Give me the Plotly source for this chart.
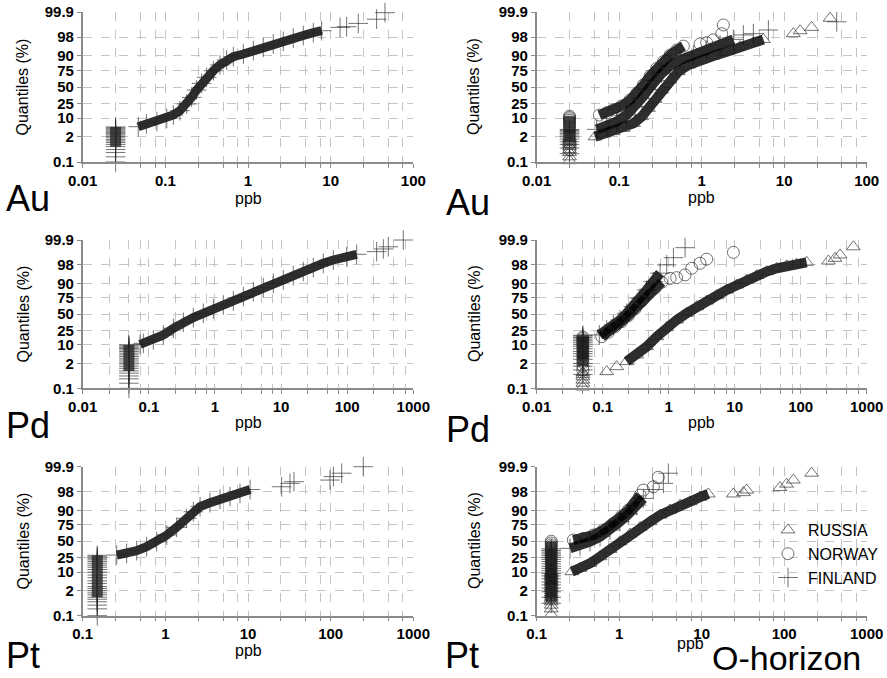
import plotly.graph_objects as go
from statistics import NormalDist

# ---------------- DATA ----------------
Y_TICKS = [0.1, 2, 10, 25, 50, 75, 90, 98, 99.9]
Y_TICK_TEXT = ["0.1", "2", "10", "25", "50", "75", "90", "98", "99.9"]

# Au  (half detection limit plotted for values below DL)
au_dl_half = 0.025
au_all_x = [0.047, 0.059, 0.079, 0.104, 0.125, 0.150, 0.181, 0.208, 0.239, 0.275, 0.316, 0.381,
            0.458, 0.552, 0.665, 0.879, 1.16, 1.53, 2.02, 2.67, 3.53, 4.67, 6.17, 7.78,
            13.0, 15.6, 21.6, 36.0, 45.4]
au_all_q = [5.1, 6.4, 7.7, 9.8, 12.4, 16.5, 24.2, 33.5, 45, 56, 65.5, 74.9,
            81.8, 86.7, 89.4, 91.3, 93.3, 94.9, 96.2, 97.0, 97.8, 98.3, 98.74, 98.98,
            99.30, 99.35, 99.56, 99.74, 99.89]
au_all_dl_q = [0.1, 0.2, 0.35, 0.5, 0.7, 0.9, 1.1, 1.3, 1.5, 1.8, 2.1, 2.4, 2.7, 3.0, 3.4, 3.8, 4.2, 4.6, 5.0]

au_ru_x = [0.0509, 0.0643, 0.085, 0.112, 0.149, 0.187, 0.226, 0.272, 0.327, 0.413, 0.521, 0.689,
           0.955, 1.38, 2.01, 2.92, 4.23, 5.59, 12.9, 15.6, 21.5, 36.0]
au_ru_q = [2.0, 2.6, 3.3, 4.4, 6.7, 11.1, 19, 30.6, 45, 61.3, 73.6, 81.8,
           86.7, 89.9, 92.7, 95.2, 96.6, 97.5, 98.6, 98.98, 99.3, 99.77]
au_ru_dl_q = [0.12, 0.2, 0.35, 0.5, 0.7, 0.9, 1.1, 1.3, 1.6, 1.9]

au_no_x = [0.0575, 0.0705, 0.085, 0.107, 0.135, 0.163, 0.196, 0.237, 0.285, 0.343, 0.413, 0.497,
           0.600, 0.955, 1.15, 1.38, 1.75, 1.83]
au_no_q = [12.4, 14.5, 17.2, 21.7, 29.6, 39.7, 53.3, 67.5, 77.9, 85.2, 90.6, 93.6,
           95.4, 96.2, 96.6, 97.4, 98.6, 99.47]
au_no_dl_q = [0.5, 1.0, 1.6, 2.3, 3.0, 3.8, 4.6, 5.5, 6.5, 7.5, 8.5, 9.5, 10.5, 11.5]

au_fi_x = [0.0533, 0.0705, 0.093, 0.123, 0.156, 0.187, 0.226, 0.272, 0.327, 0.413, 0.546, 0.792,
           1.15, 1.67, 2.42, 3.20, 4.23, 6.43, 43.3]
au_fi_q = [4.05, 5.4, 7.7, 12.4, 20.9, 32, 46, 60.3, 71.3, 80.6, 86.7, 90.6,
           93.6, 95.8, 97.5, 98.4, 98.6, 99.06, 99.64]
au_fi_dl_q = [0.3, 0.6, 0.9, 1.2, 1.6, 2.0, 2.4, 2.8, 3.2, 3.6, 4.0]

# Pd
pd_dl_half = 0.05
pd_all_x = [0.0736, 0.0826, 0.117, 0.166, 0.235, 0.333, 0.471, 0.668, 0.946, 1.34, 1.90, 2.69,
            3.81, 5.39, 7.64, 10.8, 15.3, 21.7, 30.7, 43.5, 61.7, 98.2, 139, 279, 352, 419, 706]
pd_all_q = [10.4, 11.2, 14.1, 19.3, 27.8, 36.7, 44.2, 51.4, 58.5, 64.9, 70.8, 76.7,
            82.6, 86.5, 90.1, 92.3, 94.6, 96.2, 97.4, 98.3, 98.8, 99.17, 99.37, 99.54, 99.67, 99.75, 99.9]
pd_all_dl_q = [0.1, 0.2, 0.35, 0.5, 0.7, 0.9, 1.2, 1.5, 1.9, 2.3, 2.8, 3.3, 3.9, 4.5, 5.2, 6.0,
               6.8, 7.6, 8.4, 9.2, 10.0]

pd_ru_x = [0.115, 0.163, 0.231, 0.327, 0.464, 0.658, 0.933, 1.32, 1.87, 2.66, 3.76, 5.34,
           7.56, 10.7, 15.2, 21.5, 30.5, 43.3, 61.4, 86.9, 123, 263, 331, 395, 628]
pd_ru_q = [0.83, 1.43, 2.4, 4.45, 8.8, 17.4, 28.7, 40.4, 51.4, 62.3, 70.8, 78,
           84.3, 88.8, 92.3, 94.6, 96.2, 97.2, 97.8, 98.1, 98.46, 98.66, 99.0, 99.32, 99.75]
pd_ru_dl_q = [0.12, 0.2, 0.3, 0.45, 0.6, 0.75]

pd_no_x = [0.0967, 0.122, 0.154, 0.194, 0.245, 0.309, 0.390, 0.492, 0.621, 0.783, 1.05, 1.32,
           1.77, 2.23, 2.98, 3.76, 9.55]
pd_no_q = [17.4, 22.5, 30.1, 37.7, 47.5, 58.5, 70.8, 80.7, 85.9, 90.8, 93.2, 93.6,
           94.9, 97.2, 98.3, 98.9, 99.5]
pd_no_dl_q = [1.0, 1.5, 2.2, 3.0, 4.0, 5.0, 6.5, 8.0, 9.5, 11, 12.5, 14, 15.5, 17]

pd_fi_x = [0.0889, 0.115, 0.145, 0.183, 0.231, 0.292, 0.368, 0.464, 0.586, 0.740, 0.933, 1.18, 1.77]
pd_fi_q = [19.3, 25.5, 32.6, 40.4, 51.4, 62.3, 74.5, 84.3, 91.2, 95.6, 98.0, 99.07, 99.72]
pd_fi_dl_q = [0.6, 1.0, 1.5, 2.0, 3.0, 4.0, 5.0, 6.0, 7.5, 9.0, 10.5, 12, 13.5, 15, 16.5, 18, 19]

# Pt
pt_dl_half = 0.15
pt_all_x = [0.258, 0.340, 0.450, 0.594, 0.785, 1.04, 1.37, 1.81, 2.18, 2.63, 3.47, 4.58,
            6.05, 8.0, 10.6, 25.5, 32.2, 36.0, 98.2, 108, 136, 248]
pt_all_q = [28.3, 30.7, 34.7, 41, 49.2, 60.1, 71.7, 82.8, 88.9, 92.4, 94.5, 95.9,
            96.8, 97.6, 98.4, 98.8, 99.18, 99.32, 99.44, 99.63, 99.76, 99.9]
pt_all_dl_q = [0.1, 0.25, 0.4, 0.6, 0.8, 1.0, 1.3, 1.6, 2.0, 2.5, 3.0, 4.0, 5.0, 6.5, 8.0, 10,
               12, 14, 16, 18, 20, 22, 24, 26, 28]

pt_ru_x = [0.266, 0.335, 0.443, 0.586, 0.774, 1.02, 1.35, 1.79, 2.37, 3.13, 4.13, 5.46,
           7.22, 9.55, 12.0, 24.2, 32.0, 35.1, 88.9, 107, 129, 215]
pt_ru_q = [10.3, 13, 17.9, 26, 36.7, 49.2, 61.7, 71.7, 79.1, 86.1, 90.2, 93.3,
           94.9, 96.6, 97.5, 97.5, 97.8, 98.3, 98.7, 99.1, 99.44, 99.76]
pt_ru_dl_q = [0.12, 0.25, 0.4, 0.6, 0.8, 1.0, 1.3, 1.6, 2.0, 2.5, 3.0, 3.6, 4.3, 5.0, 6.0, 7.0,
              8.0, 9.0, 10.0]

pt_no_x = [0.278, 0.368, 0.486, 0.643, 0.849, 1.07, 1.29, 1.56, 1.79, 1.96, 2.59, 2.98]
pt_no_q = [51.9, 54.7, 60.1, 67.8, 77, 85.2, 90.2, 94.2, 97.2, 98.3, 98.8, 99.6]
pt_no_dl_q = [1.0, 2.0, 3.5, 5.0, 7.0, 9.0, 11.5, 14, 17, 20, 23, 26, 29, 32, 35, 38, 41, 44, 47, 50]

pt_fi_x = [0.254, 0.335, 0.443, 0.586, 0.774, 1.02, 1.29, 1.63, 1.96, 2.59, 3.43, 3.94]
pt_fi_q = [38.3, 42, 49.2, 57.4, 67.8, 79.1, 87, 93.3, 96.2, 98.4, 99.18, 99.76]
pt_fi_dl_q = [0.5, 1.0, 1.8, 2.6, 3.5, 4.5, 6.0, 7.5, 9.0, 11, 13, 15, 17.5, 20, 22.5, 25, 27.5,
              30, 32.5, 35, 37.5]

# ---------------- STYLE ----------------
FONT = "Liberation Sans, Arial, Helvetica, sans-serif"
W, H = 887, 678
MARK_C = "rgba(40,40,40,0.65)"
BAND_C = "rgba(0,0,0,0.82)"
STACK_C = "rgba(20,20,20,0.75)"
GRID_C = "#c4c4c4"
AXIS_C = "#8a8a8a"
SYM = {"ALL": "cross-thin-open", "FINLAND": "cross-thin-open",
       "NORWAY": "circle-open", "RUSSIA": "triangle-up-open"}
SIZE = {"cross-thin-open": 14, "circle-open": 12, "triangle-up-open": 12}
RANK = {"RUSSIA": 1, "NORWAY": 2, "FINLAND": 3}

nd = NormalDist()


def zq(p):
    return nd.inv_cdf(p / 100.0)


# panel: (axis index, x decades range, band width, series list)
# series: (name, dl_half, dl_q, x, q, dense_start, dense_end, stack_dense_start)
panels = [
    (1, (-2, 2), 9, [("ALL", au_dl_half, au_all_dl_q, au_all_x, au_all_q, 0, 24, 4)]),
    (2, (-2, 2), 10, [("FINLAND", au_dl_half, au_fi_dl_q, au_fi_x, au_fi_q, 0, 15, 3),
                      ("RUSSIA", au_dl_half, au_ru_dl_q, au_ru_x, au_ru_q, 0, 18, 99),
                      ("NORWAY", au_dl_half, au_no_dl_q, au_no_x, au_no_q, 0, 13, 4)]),
    (3, (-2, 3), 9, [("ALL", pd_dl_half, pd_all_dl_q, pd_all_x, pd_all_q, 0, 23, 5)]),
    (4, (-2, 3), 10, [("FINLAND", pd_dl_half, pd_fi_dl_q, pd_fi_x, pd_fi_q, 0, 10, 2),
                      ("RUSSIA", pd_dl_half, pd_ru_dl_q, pd_ru_x, pd_ru_q, 2, 21, 99),
                      ("NORWAY", pd_dl_half, pd_no_dl_q, pd_no_x, pd_no_q, 0, 10, 3)]),
    (5, (-1, 3), 9, [("ALL", pt_dl_half, pt_all_dl_q, pt_all_x, pt_all_q, 0, 15, 5)]),
    (6, (-1, 3), 10, [("FINLAND", pt_dl_half, pt_fi_dl_q, pt_fi_x, pt_fi_q, 0, 9, 1),
                      ("RUSSIA", pt_dl_half, pt_ru_dl_q, pt_ru_x, pt_ru_q, 0, 15, 3),
                      ("NORWAY", pt_dl_half, pt_no_dl_q, pt_no_x, pt_no_q, 0, 9, 2)]),
]

X_DOM = [(82.7 / W, 413.3 / W), (536.7 / W, 866.7 / W)]
Y_DOM = [(1 - 162 / H, 1 - 12 / H), (1 - 388.3 / H, 1 - 240 / H), (1 - 615.7 / H, 1 - 466.7 / H)]

fig = go.Figure()
layout = dict(width=W, height=H, margin=dict(l=0, r=0, t=0, b=0, pad=0, autoexpand=False),
              paper_bgcolor="white", plot_bgcolor="white", showlegend=True)

y_vals = [zq(p) for p in Y_TICKS]
axis_common = dict(showgrid=True, gridcolor=GRID_C, griddash="dash", gridwidth=1,
                   showline=True, linecolor=AXIS_C, linewidth=1.5, zeroline=False,
                   automargin=False,
                   ticks="outside", tickcolor=AXIS_C, ticklen=4, tickwidth=1,
                   tickfont=dict(family=FONT, size=15, color="black", weight="bold"))

for ax, (d0, d1), bw, series in panels:
    col = (ax - 1) % 2
    row = (ax - 1) // 2
    xa = "x" if ax == 1 else f"x{ax}"
    ya = "y" if ax == 1 else f"y{ax}"
    major = [10 ** d for d in range(d0, d1 + 1)]
    minor = [m * 10 ** d for d in range(d0, d1) for m in (2.5, 5, 7.5)]
    layout["xaxis" if ax == 1 else f"xaxis{ax}"] = dict(
        axis_common, type="log", range=[d0, d1], tickmode="array", tickvals=major,
        ticktext=[f"{v:g}" for v in major],
        minor=dict(tickmode="array", tickvals=minor, showgrid=True, gridcolor=GRID_C,
                   griddash="dash", gridwidth=1, ticks="outside", ticklen=4,
                   tickcolor=AXIS_C, tickwidth=1),
        domain=X_DOM[col], anchor=ya)
    layout["yaxis" if ax == 1 else f"yaxis{ax}"] = dict(
        axis_common, range=[zq(0.1), zq(99.9)], tickmode="array", tickvals=y_vals,
        ticktext=Y_TICK_TEXT, domain=Y_DOM[row], anchor=xa)

    for name, dlh, dlq, xs, qs, s0, s1, k0 in series:
        sym = SYM[name]
        # dense band of overlapping points
        fig.add_trace(go.Scatter(
            x=xs[s0:s1], y=[zq(q) for q in qs[s0:s1]], mode="lines",
            line=dict(color=BAND_C, width=bw), xaxis=xa, yaxis=ya,
            showlegend=False, hoverinfo="skip", cliponaxis=False))
        # dense part of the below-detection-limit stack
        if k0 < len(dlq):
            fig.add_trace(go.Scatter(
                x=[dlh] * (len(dlq) - k0), y=[zq(q) for q in dlq[k0:]], mode="lines",
                line=dict(color=STACK_C, width=11), xaxis=xa, yaxis=ya,
                showlegend=False, hoverinfo="skip", cliponaxis=False))
        # individual samples: below-DL stack plus measured values
        px_ = [dlh] * len(dlq) + list(xs)
        py_ = [zq(q) for q in dlq] + [zq(q) for q in qs]
        fig.add_trace(go.Scatter(
            x=px_, y=py_, mode="markers", name=name,
            marker=dict(symbol=sym, size=SIZE[sym], color=MARK_C,
                        line=dict(color=MARK_C, width=1)),
            xaxis=xa, yaxis=ya, cliponaxis=False,
            showlegend=(ax == 6), legendrank=RANK.get(name, 10)))

layout["legend"] = dict(x=768 / W, y=1 - 513 / H, xanchor="left", yanchor="top",
                        font=dict(family=FONT, size=16, color="black"),
                        bgcolor="rgba(0,0,0,0)", itemwidth=30, tracegroupgap=0)

ann = []


def add_text(text, x, y, size, xanchor="center", yanchor="middle", angle=0):
    ann.append(dict(text=text, x=x / W, y=1 - y / H, xref="paper", yref="paper",
                    xanchor=xanchor, yanchor=yanchor, showarrow=False, textangle=angle,
                    borderpad=0, font=dict(family=FONT, size=size, color="black")))


for yc in (87, 314, 541):
    add_text("Quantiles (%)", 22.5, yc, 16, angle=-90)
    add_text("Quantiles (%)", 474, yc, 16, angle=-90)
add_text("ppb", 248, 198, 16)
add_text("ppb", 701.7, 197, 16)
add_text("ppb", 248, 650, 16)
add_text("ppb", 248, 422, 16)
add_text("ppb", 701.7, 422, 16)
add_text("ppb", 690, 643, 16)
add_text("Au", 5, 198, 36, xanchor="left")
add_text("Au", 445, 202, 36, xanchor="left")
add_text("Pd", 5, 425, 36, xanchor="left")
add_text("Pd", 445, 430, 36, xanchor="left")
add_text("Pt", 5, 677, 36, xanchor="left", yanchor="bottom")
add_text("Pt", 444, 677, 36, xanchor="left", yanchor="bottom")
add_text("O-horizon", 711, 678, 34, xanchor="left", yanchor="bottom")
layout["annotations"] = ann

fig.update_layout(**layout)
fig.write_html("out.html", config={"displayModeBar": False},
               post_script="document.body.style.margin='0';document.body.style.overflow='hidden';")
